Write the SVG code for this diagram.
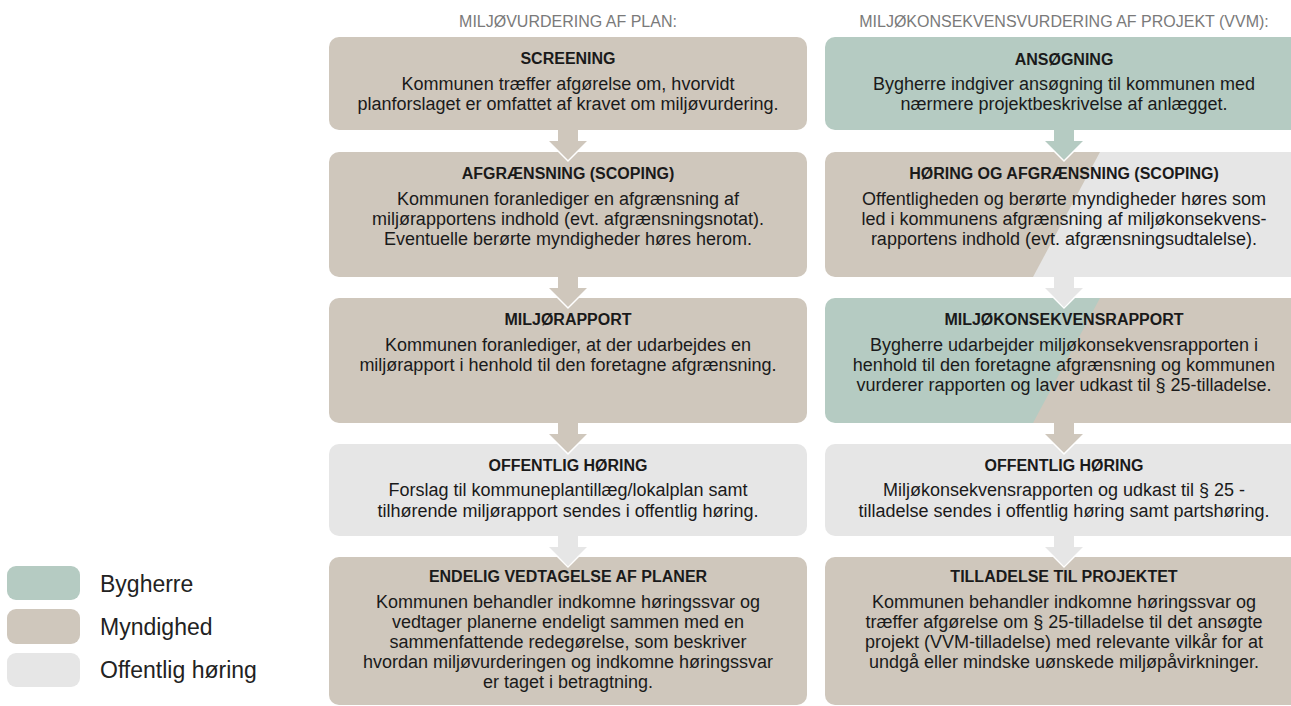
<svg xmlns="http://www.w3.org/2000/svg" width="1291" height="706" viewBox="0 0 1291 706">
<defs>
<style>
.teal{fill:#b5cbc2}
.tan{fill:#cfc7bc}
.grey{fill:#e6e6e6}
.hdr{font-family:"Liberation Sans",Arial,sans-serif;font-size:16px;fill:#7a7a7a;text-anchor:middle}
.ttl{font-family:"Liberation Sans",Arial,sans-serif;font-size:16px;font-weight:bold;fill:#1a1a1a;text-anchor:middle}
.bdy{font-family:"Liberation Sans",Arial,sans-serif;font-size:18px;fill:#1a1a1a;text-anchor:middle}
.leg{font-family:"Liberation Sans",Arial,sans-serif;font-size:23px;fill:#222}
.v{fill:none;stroke:#ffffff;stroke-width:1.5}
</style>
<clipPath id="cR2"><rect x="825" y="152" width="478" height="125" rx="10"/></clipPath>
<clipPath id="cR3"><rect x="825" y="298" width="478" height="125" rx="10"/></clipPath>
</defs>
<rect width="1291" height="706" fill="#ffffff"/>

<g id="headers">
<text class="hdr" x="568" y="27">MILJØVURDERING AF PLAN:</text>
<text class="hdr" x="1064" y="27">MILJØKONSEKVENSVURDERING AF PROJEKT (VVM):</text>
</g>

<g id="L1">
<rect class="tan" x="329" y="37" width="478" height="93" rx="10"/>
<text class="ttl" x="568" y="64">SCREENING</text>
<text class="bdy" x="568" y="90">Kommunen træffer afgørelse om, hvorvidt</text>
<text class="bdy" x="568" y="110">planforslaget er omfattet af kravet om miljøvurdering.</text>
</g>
<g id="L2">
<rect class="tan" x="329" y="152" width="478" height="125" rx="10"/>
<text class="ttl" x="568" y="179">AFGRÆNSNING (SCOPING)</text>
<text class="bdy" x="568" y="205">Kommunen foranlediger en afgrænsning af</text>
<text class="bdy" x="568" y="225">miljørapportens indhold (evt. afgrænsningsnotat).</text>
<text class="bdy" x="568" y="245">Eventuelle berørte myndigheder høres herom.</text>
</g>
<g id="L3">
<rect class="tan" x="329" y="298" width="478" height="125" rx="10"/>
<text class="ttl" x="568" y="325">MILJØRAPPORT</text>
<text class="bdy" x="568" y="351">Kommunen foranlediger, at der udarbejdes en</text>
<text class="bdy" x="568" y="371">miljørapport i henhold til den foretagne afgrænsning.</text>
</g>
<g id="L4">
<rect class="grey" x="329" y="444" width="478" height="92" rx="10"/>
<text class="ttl" x="568" y="471">OFFENTLIG HØRING</text>
<text class="bdy" x="568" y="496">Forslag til kommuneplantillæg/lokalplan samt</text>
<text class="bdy" x="568" y="517">tilhørende miljørapport sendes i offentlig høring.</text>
</g>
<g id="L5">
<rect class="tan" x="329" y="557" width="478" height="148" rx="10"/>
<text class="ttl" x="568" y="582">ENDELIG VEDTAGELSE AF PLANER</text>
<text class="bdy" x="568" y="608">Kommunen behandler indkomne høringssvar og</text>
<text class="bdy" x="568" y="628">vedtager planerne endeligt sammen med en</text>
<text class="bdy" x="568" y="648">sammenfattende redegørelse, som beskriver</text>
<text class="bdy" x="568" y="668">hvordan miljøvurderingen og indkomne høringssvar</text>
<text class="bdy" x="568" y="688">er taget i betragtning.</text>
</g>

<g id="R1">
<rect class="teal" x="825" y="37" width="478" height="93" rx="10"/>
<text class="ttl" x="1064" y="65">ANSØGNING</text>
<text class="bdy" x="1064" y="90">Bygherre indgiver ansøgning til kommunen med</text>
<text class="bdy" x="1064" y="110">nærmere projektbeskrivelse af anlægget.</text>
</g>
<g id="R2">
<g clip-path="url(#cR2)">
<rect class="tan" x="825" y="152" width="478" height="125"/>
<polygon class="grey" points="1100,152 1310,152 1310,277 1033,277"/>
</g>
<text class="ttl" x="1064" y="179">HØRING OG AFGRÆNSNING (SCOPING)</text>
<text class="bdy" x="1064" y="205">Offentligheden og berørte myndigheder høres som</text>
<text class="bdy" x="1064" y="225">led i kommunens afgrænsning af miljøkonsekvens-</text>
<text class="bdy" x="1064" y="245">rapportens indhold (evt. afgrænsningsudtalelse).</text>
</g>
<g id="R3">
<g clip-path="url(#cR3)">
<rect class="teal" x="825" y="298" width="478" height="125"/>
<polygon class="tan" points="1100,298 1310,298 1310,423 1033,423"/>
</g>
<text class="ttl" x="1064" y="325">MILJØKONSEKVENSRAPPORT</text>
<text class="bdy" x="1064" y="351">Bygherre udarbejder miljøkonsekvensrapporten i</text>
<text class="bdy" x="1064" y="371">henhold til den foretagne afgrænsning og kommunen</text>
<text class="bdy" x="1064" y="391">vurderer rapporten og laver udkast til § 25-tilladelse.</text>
</g>
<g id="R4">
<rect class="grey" x="825" y="444" width="478" height="92" rx="10"/>
<text class="ttl" x="1064" y="471">OFFENTLIG HØRING</text>
<text class="bdy" x="1064" y="496">Miljøkonsekvensrapporten og udkast til § 25 -</text>
<text class="bdy" x="1064" y="517">tilladelse sendes i offentlig høring samt partshøring.</text>
</g>
<g id="R5">
<rect class="tan" x="825" y="557" width="478" height="148" rx="10"/>
<text class="ttl" x="1064" y="582">TILLADELSE TIL PROJEKTET</text>
<text class="bdy" x="1064" y="608">Kommunen behandler indkomne høringssvar og</text>
<text class="bdy" x="1064" y="628">træffer afgørelse om § 25-tilladelse til det ansøgte</text>
<text class="bdy" x="1064" y="648">projekt (VVM-tilladelse) med relevante vilkår for at</text>
<text class="bdy" x="1064" y="668">undgå eller mindske uønskede miljøpåvirkninger.</text>
</g>

<g id="connectors">
<polygon class="tan" points="558,129 578,129 578,141 588,141 568,160 548,141 558,141"/>
<polyline class="v" points="547,140 568,161 589,140"/>
<polygon class="tan" points="558,276 578,276 578,288 588,288 568,307 548,288 558,288"/>
<polyline class="v" points="547,287 568,308 589,287"/>
<polygon class="tan" points="558,422 578,422 578,434 588,434 568,453 548,434 558,434"/>
<polyline class="v" points="547,433 568,454 589,433"/>
<polygon class="grey" points="558,535 578,535 578,547 588,547 568,566 548,547 558,547"/>
<polyline class="v" points="547,546 568,567 589,546"/>

<polygon class="teal" points="1054,129 1074,129 1074,141 1084,141 1064,160 1044,141 1054,141"/>
<polyline class="v" points="1043,140 1064,161 1085,140"/>
<polygon class="grey" points="1054,276 1074,276 1074,288 1084,288 1064,307 1044,288 1054,288"/>
<polyline class="v" points="1043,287 1064,308 1085,287"/>
<polygon class="tan" points="1054,422 1074,422 1074,434 1084,434 1064,453 1044,434 1054,434"/>
<polyline class="v" points="1043,433 1064,454 1085,433"/>
<polygon class="grey" points="1054,535 1074,535 1074,547 1084,547 1064,566 1044,547 1054,547"/>
<polyline class="v" points="1043,546 1064,567 1085,546"/>
</g>

<g id="legend">
<rect class="teal" x="7" y="566" width="73" height="34" rx="9"/>
<text class="leg" x="100" y="592">Bygherre</text>
<rect class="tan" x="7" y="609" width="73" height="35" rx="9"/>
<text class="leg" x="100" y="635">Myndighed</text>
<rect class="grey" x="7" y="653" width="73" height="34" rx="9"/>
<text class="leg" x="100" y="678">Offentlig høring</text>
</g>
</svg>
